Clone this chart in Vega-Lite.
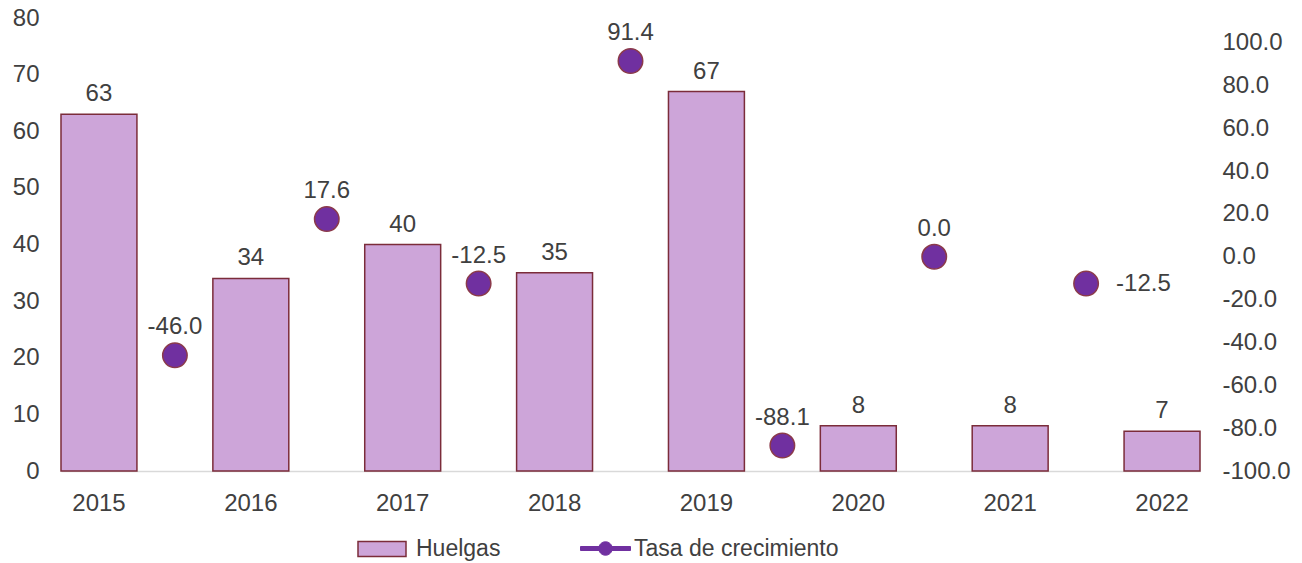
{
  "$schema": "https://vega.github.io/schema/vega-lite/v6.json",
  "width": 1139,
  "height": 453,
  "autosize": {"type": "none"},
  "padding": {"left": 61, "top": 18, "right": 102, "bottom": 92},
  "background": "white",
  "config": {
    "locale": {"number": {"decimal": ".", "thousands": ",", "grouping": [3], "currency": ["$", ""], "minus": "-"}},
    "view": {"stroke": null},
    "font": "Liberation Sans",
    "axis": {"labelFont": "Liberation Sans", "labelFontSize": 24, "labelColor": "#404040", "ticks": false, "grid": false, "title": null},
    "legend": {"labelFont": "Liberation Sans", "labelFontSize": 23, "labelColor": "#404040", "padding": 0, "labelLimit": 500}
  },
  "data": {
    "values": [
      {"year": "2015", "huelgas": 63, "growth": null},
      {"year": "2016", "huelgas": 34, "growth": -46.0},
      {"year": "2017", "huelgas": 40, "growth": 17.6},
      {"year": "2018", "huelgas": 35, "growth": -12.5},
      {"year": "2019", "huelgas": 67, "growth": 91.4},
      {"year": "2020", "huelgas": 8, "growth": -88.1},
      {"year": "2021", "huelgas": 8, "growth": 0.0},
      {"year": "2022", "huelgas": 7, "growth": -12.5}
    ]
  },
  "encoding": {
    "x": {
      "field": "year",
      "type": "ordinal",
      "scale": {"paddingInner": 0.5, "paddingOuter": 0},
      "axis": {"labelAngle": 0, "domainColor": "#D9D9D9", "domainWidth": 1.5, "labelPadding": 20}
    }
  },
  "layer": [
    {
      "layer": [
        {
          "mark": {"type": "bar", "stroke": "#7B2C3A", "strokeWidth": 1.5},
          "encoding": {
            "y": {"field": "huelgas", "type": "quantitative", "scale": {"domain": [0, 80], "nice": false}, "axis": {"orient": "left", "values": [0,10,20,30,40,50,60,70,80], "domain": false, "labelPadding": 22}},
            "color": {"datum": "Huelgas", "type": "nominal", "scale": {"domain": ["Huelgas"], "range": ["#CDA5D9"]},
              "legend": {
                "title": null, "orient": "none", "legendX": 295, "legendY": 505,
                "symbolType": "M-0.96,-0.3H0.96V0.3H-0.96Z",
                "symbolSize": 2500, "symbolStrokeColor": "#7B2C3A", "symbolStrokeWidth": 1.5, "symbolOpacity": 1,
                "labelOffset": 8
              }
            }
          }
        },
        {
          "mark": {"type": "text", "fontSize": 24, "font": "Liberation Sans", "color": "#404040", "baseline": "alphabetic", "dy": -13},
          "encoding": {
            "y": {"field": "huelgas", "type": "quantitative", "scale": {"domain": [0, 80], "nice": false}},
            "text": {"field": "huelgas", "type": "quantitative"}
          }
        }
      ]
    },
    {
      "transform": [{"filter": "datum.growth != null"}],
      "layer": [
        {
          "mark": {"type": "point", "filled": true, "size": 600, "stroke": "#8B3A4A", "strokeWidth": 1.5, "opacity": 1},
          "encoding": {
            "x": {"field": "year", "type": "ordinal", "bandPosition": -0.5},
            "y": {"field": "growth", "type": "quantitative", "scale": {"domain": [-100, 111.5], "nice": false}, "axis": {"orient": "right", "values": [-100,-80,-60,-40,-20,0,20,40,60,80,100], "format": ".1f", "labelExpr": "replace(format(datum.value, '.1f'), '\u2212', '-')", "domain": false, "labelPadding": 22}},
            "color": {"datum": "Tasa de crecimiento", "type": "nominal", "scale": {"domain": ["Tasa de crecimiento"], "range": ["#7030A0"]},
              "legend": {
                "title": null, "orient": "none", "legendX": 519, "legendY": 505,
                "symbolType": "M-1,-0.08H1V0.08H-1Z M0.27,0A0.27,0.27 0 1,1 -0.27,0A0.27,0.27 0 1,1 0.27,0Z",
                "symbolSize": 2500, "symbolStrokeColor": "#7030A0", "symbolStrokeWidth": 1, "symbolOpacity": 1,
                "labelOffset": 3
              }
            }
          }
        },
        {
          "transform": [{"filter": "datum.year != '2022'"}],
          "mark": {"type": "text", "fontSize": 24, "font": "Liberation Sans", "color": "#404040", "baseline": "alphabetic", "dy": -21},
          "encoding": {
            "x": {"field": "year", "type": "ordinal", "bandPosition": -0.5},
            "y": {"field": "growth", "type": "quantitative", "scale": {"domain": [-100, 111.5], "nice": false}},
            "text": {"field": "growth", "type": "quantitative", "format": ".1f"}
          }
        },
        {
          "transform": [{"filter": "datum.year == '2022'"}],
          "mark": {"type": "text", "fontSize": 24, "font": "Liberation Sans", "color": "#404040", "baseline": "middle", "align": "left", "dx": 30},
          "encoding": {
            "x": {"field": "year", "type": "ordinal", "bandPosition": -0.5},
            "y": {"field": "growth", "type": "quantitative", "scale": {"domain": [-100, 111.5], "nice": false}},
            "text": {"field": "growth", "type": "quantitative", "format": ".1f"}
          }
        }
      ]
    }
  ],
  "resolve": {"scale": {"y": "independent", "color": "independent"}, "legend": {"color": "independent"}}
}
